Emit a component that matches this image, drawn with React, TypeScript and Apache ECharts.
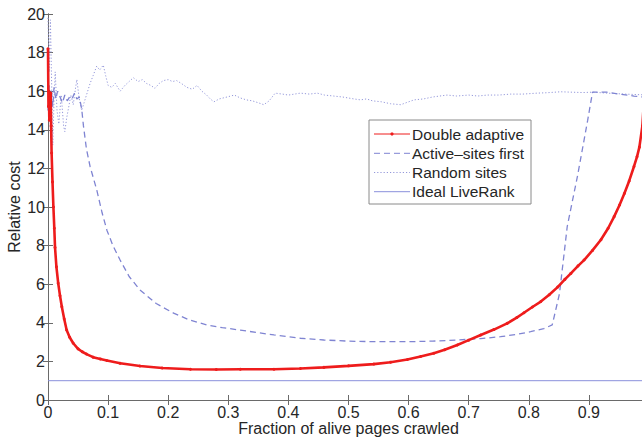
import React, { useEffect, useRef } from "react";
import * as echarts from "echarts";

const xTicks = [0, 0.1, 0.2, 0.3, 0.4, 0.5, 0.6, 0.7, 0.8, 0.9, 1];
const yTicks = [0, 2, 4, 6, 8, 10, 12, 14, 16, 18, 20];
const seriesNames = ["Double adaptive", "Active–sites first", "Random sites", "Ideal LiveRank"];

const doubleAdaptive: [number, number][] = [
  [0, 18.2], [0.0008, 15.2], [0.0015, 16.0], [0.0022, 14.5], [0.003, 15.8], [0.0038, 14.8],
  [0.0045, 15.9], [0.0052, 14.2], [0.006, 12.8], [0.0075, 11.3], [0.009, 10.0], [0.0105, 8.9],
  [0.0117, 7.9], [0.014, 6.9], [0.017, 6.05], [0.02, 5.4], [0.023, 4.83], [0.027, 4.2],
  [0.031, 3.63], [0.036, 3.25], [0.042, 2.94], [0.05, 2.65], [0.057, 2.5], [0.064, 2.38],
  [0.075, 2.22], [0.087, 2.13], [0.098, 2.05], [0.12, 1.9], [0.153, 1.76], [0.19, 1.66],
  [0.237, 1.59], [0.28, 1.58], [0.32, 1.59], [0.376, 1.59], [0.42, 1.63], [0.459, 1.69],
  [0.5, 1.77], [0.542, 1.86], [0.57, 1.96], [0.598, 2.1], [0.62, 2.25], [0.642, 2.42],
  [0.66, 2.6], [0.681, 2.85], [0.7, 3.1], [0.72, 3.37], [0.742, 3.65], [0.764, 3.97],
  [0.78, 4.27], [0.792, 4.52], [0.806, 4.82], [0.82, 5.1], [0.834, 5.45], [0.848, 5.85],
  [0.86, 6.25], [0.87, 6.56], [0.882, 6.95], [0.892, 7.25], [0.906, 7.75], [0.92, 8.3],
  [0.932, 8.9], [0.942, 9.5], [0.951, 10.1], [0.959, 10.7], [0.967, 11.35], [0.975, 12.1],
  [0.98, 12.6], [0.984, 13.1], [0.989, 14.2], [0.992, 15.7], [0.996, 17.5], [1.0, 19.5],
];

const activeSitesFirst: [number, number][] = [
  [0, 15.0], [0.002, 16.3], [0.004, 15.5], [0.006, 16.0], [0.008, 15.2], [0.01, 16.2],
  [0.013, 15.6], [0.016, 16.0], [0.02, 15.7], [0.024, 15.4], [0.028, 15.8], [0.032, 15.5],
  [0.036, 15.7], [0.04, 15.6], [0.044, 15.9], [0.048, 15.6], [0.052, 15.7], [0.056, 15.1],
  [0.059, 14.2], [0.064, 13.0], [0.07, 12.1], [0.081, 10.9], [0.09, 9.7], [0.098, 8.8],
  [0.108, 8.0], [0.12, 7.25], [0.135, 6.4], [0.153, 5.7], [0.18, 5.0], [0.209, 4.5],
  [0.235, 4.15], [0.264, 3.89], [0.29, 3.75], [0.32, 3.62], [0.376, 3.37], [0.42, 3.2],
  [0.459, 3.11], [0.5, 3.05], [0.542, 3.02], [0.598, 3.02], [0.64, 3.05], [0.681, 3.11],
  [0.72, 3.18], [0.753, 3.28], [0.78, 3.4], [0.803, 3.54], [0.825, 3.7], [0.839, 3.89],
  [0.851, 5.5], [0.864, 9.0], [0.881, 11.6], [0.898, 14.5], [0.906, 15.95], [0.93, 15.95],
  [0.95, 15.85], [0.975, 15.75], [0.99, 15.7], [1.0, 15.65],
];

const randomSites: [number, number][] = [
  [0, 19.8], [0.002, 17.0], [0.004, 19.7], [0.006, 16.5], [0.008, 13.2], [0.01, 15.5],
  [0.012, 17.0], [0.015, 15.0], [0.018, 14.3], [0.022, 15.8], [0.026, 14.2], [0.028, 13.9],
  [0.031, 14.6], [0.034, 15.1], [0.038, 15.8], [0.042, 15.3], [0.046, 16.2], [0.048, 16.6],
  [0.052, 15.6], [0.056, 15.0], [0.06, 15.4], [0.065, 15.9], [0.07, 16.4], [0.075, 16.8],
  [0.081, 17.3], [0.086, 17.1], [0.092, 17.35], [0.096, 16.8], [0.1, 16.3], [0.106, 16.2],
  [0.112, 16.4], [0.12, 16.0], [0.128, 16.3], [0.135, 16.5], [0.142, 16.7], [0.15, 16.5],
  [0.157, 16.6], [0.164, 16.4], [0.171, 16.3], [0.178, 16.15], [0.185, 16.4], [0.192, 16.55],
  [0.2, 16.6], [0.207, 16.5], [0.214, 16.55], [0.222, 16.4], [0.231, 16.2], [0.24, 16.1],
  [0.248, 16.3], [0.256, 16.0], [0.264, 15.8], [0.27, 15.6], [0.276, 15.45], [0.285, 15.6],
  [0.298, 15.7], [0.31, 15.8], [0.32, 15.65], [0.33, 15.55], [0.34, 15.5], [0.35, 15.4],
  [0.359, 15.3], [0.368, 15.5], [0.378, 15.9], [0.39, 15.85], [0.4, 15.8], [0.41, 15.85],
  [0.42, 15.9], [0.435, 15.85], [0.448, 15.9], [0.46, 15.8], [0.475, 15.75], [0.49, 15.7],
  [0.509, 15.6], [0.52, 15.55], [0.53, 15.6], [0.54, 15.5], [0.555, 15.45], [0.57, 15.35],
  [0.587, 15.3], [0.6, 15.45], [0.609, 15.55], [0.625, 15.6], [0.64, 15.7], [0.664, 15.8],
  [0.68, 15.75], [0.7, 15.8], [0.715, 15.75], [0.731, 15.8], [0.75, 15.8], [0.77, 15.85],
  [0.79, 15.85], [0.814, 15.9], [0.83, 15.92], [0.853, 15.97], [0.87, 15.95], [0.89, 15.93],
  [0.906, 15.95], [0.93, 15.9], [0.96, 15.85], [1.0, 15.8],
];

const idealLiveRank: [number, number][] = [
  [0, 1], [1, 1],
];

const FONT = '"Liberation Sans", Arial, Helvetica, sans-serif';
const AXIS_COLOR = "#6a6a6a";
const TEXT_COLOR = "#262626";
const RED = "#ee1c1c";
const DASH_BLUE = "#7f84d2";
const DOT_BLUE = "#9498da";
const SOLID_BLUE = "#8a90dc";
const DASH_PATTERN = [6, 4];
const DOT_PATTERN = [1.2, 2];

export default function App() {
  const ref = useRef<HTMLDivElement>(null);

  useEffect(() => {
    if (!ref.current) return;
    const chart = echarts.init(ref.current, undefined, { renderer: "svg" });
    const xMin = xTicks[0];
    const xMax = xTicks[xTicks.length - 1];
    const xInterval = xTicks[1] - xTicks[0];
    const yMin = yTicks[0];
    const yMax = yTicks[yTicks.length - 1];
    const yInterval = yTicks[1] - yTicks[0];

    const baseX = {
      type: "value" as const,
      min: xMin,
      max: xMax,
      interval: xInterval,
      splitLine: { show: false },
      axisLine: { show: true, lineStyle: { color: AXIS_COLOR, width: 1 } },
      axisTick: { show: true, inside: true, length: 5, lineStyle: { color: AXIS_COLOR } },
    };
    const baseY = {
      type: "value" as const,
      min: yMin,
      max: yMax,
      interval: yInterval,
      splitLine: { show: false },
      axisLine: { show: true, lineStyle: { color: AXIS_COLOR, width: 1 } },
      axisTick: { show: true, inside: true, length: 5, lineStyle: { color: AXIS_COLOR } },
    };

    // legend drawn as graphic elements (box, line samples, labels)
    const legX = 369;
    const legY = 120;
    const legW = 162;
    const legH = 84;
    const rowYs = [134, 153.3, 172.5, 191.7];
    const legendStyles = [
      { color: RED, dash: null as number[] | null, dot: true },
      { color: DASH_BLUE, dash: DASH_PATTERN, dot: false },
      { color: DOT_BLUE, dash: DOT_PATTERN, dot: false },
      { color: SOLID_BLUE, dash: null, dot: false },
    ];
    const legendChildren: any[] = [
      {
        type: "rect",
        shape: { x: legX, y: legY, width: legW, height: legH },
        style: { fill: "#ffffff", stroke: "#8a8a8a", lineWidth: 1 },
      },
    ];
    seriesNames.forEach((name, i) => {
      const s = legendStyles[i];
      legendChildren.push({
        type: "line",
        shape: { x1: legX + 5, y1: rowYs[i], x2: legX + 41, y2: rowYs[i] },
        style: { stroke: s.color, lineWidth: 1, lineDash: s.dash || undefined },
      });
      if (s.dot) {
        legendChildren.push({
          type: "circle",
          shape: { cx: legX + 23, cy: rowYs[i], r: 1.6 },
          style: { fill: s.color },
        });
      }
      legendChildren.push({
        type: "text",
        x: legX + 43,
        y: rowYs[i],
        style: {
          text: name,
          fill: TEXT_COLOR,
          font: `15.5px ${FONT}`,
          verticalAlign: "middle",
          align: "left",
        },
      });
    });

    chart.setOption({
      animation: false,
      backgroundColor: "#ffffff",
      textStyle: { fontFamily: FONT },
      grid: { left: 48, right: 11, top: 14, bottom: 38, containLabel: false, outerBoundsMode: "none" },
      xAxis: [
        {
          ...baseX,
          position: "bottom",
          name: "Fraction of alive pages crawled",
          nameLocation: "middle",
          nameGap: 21,
          nameMoveOverlap: false,
          nameTextStyle: { fontFamily: FONT, fontSize: 16, lineHeight: 15, color: TEXT_COLOR },
          axisLabel: {
            show: true,
            margin: 5,
            showMaxLabel: false,
            fontFamily: FONT,
            fontSize: 16,
            lineHeight: 15,
            color: TEXT_COLOR,
            formatter: (v: number) => String(Math.round(v * 10) / 10),
          },
        },
        {
          ...baseX,
          position: "top",
          axisLabel: { show: false },
        },
      ],
      yAxis: [
        {
          ...baseY,
          position: "left",
          name: "Relative cost",
          nameLocation: "middle",
          nameGap: 26,
          nameRotate: 90,
          nameMoveOverlap: false,
          nameTextStyle: { fontFamily: FONT, fontSize: 16, color: TEXT_COLOR },
          axisLabel: { show: true, margin: 3, fontFamily: FONT, fontSize: 16, color: TEXT_COLOR },
        },
        {
          ...baseY,
          position: "right",
          axisLabel: { show: false },
        },
      ],
      graphic: [{ type: "group", z: 100, children: legendChildren }],
      series: [
        {
          name: seriesNames[0],
          type: "line",
          data: doubleAdaptive,
          showSymbol: true,
          symbol: "circle",
          symbolSize: 3,
          itemStyle: { color: RED },
          lineStyle: { color: RED, width: 2.6 },
          z: 5,
        },
        {
          name: seriesNames[1],
          type: "line",
          data: activeSitesFirst,
          showSymbol: false,
          symbol: "none",
          itemStyle: { color: DASH_BLUE },
          lineStyle: { color: DASH_BLUE, width: 1.3, type: DASH_PATTERN },
          z: 4,
        },
        {
          name: seriesNames[2],
          type: "line",
          data: randomSites,
          showSymbol: false,
          symbol: "none",
          itemStyle: { color: DOT_BLUE },
          lineStyle: { color: DOT_BLUE, width: 1, type: DOT_PATTERN },
          z: 3,
        },
        {
          name: seriesNames[3],
          type: "line",
          data: idealLiveRank,
          showSymbol: false,
          symbol: "none",
          itemStyle: { color: SOLID_BLUE },
          lineStyle: { color: SOLID_BLUE, width: 1 },
          z: 2,
        },
      ],
    });
    return () => chart.dispose();
  }, []);

  return (
    <div style={{ position: "fixed", left: 0, top: 0, width: 642, height: 438, overflow: "hidden", background: "#fff" }}>
      <div ref={ref} style={{ width: 660, height: 438 }} />
    </div>
  );
}
